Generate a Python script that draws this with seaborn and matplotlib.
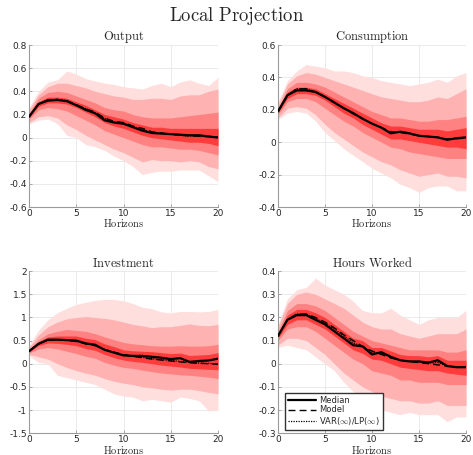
import numpy as np
import pandas as pd
import seaborn as sns
from matplotlib import pyplot as plt
from matplotlib.ticker import FormatStrFormatter

horizons = list(range(21))

# ---- Output
out_median = [0.18, 0.29, 0.32, 0.325, 0.315, 0.28, 0.24, 0.21, 0.15, 0.13, 0.12, 0.09, 0.06, 0.04, 0.035, 0.03, 0.025, 0.02, 0.02, 0.01, 0.0]
out_model = [0.18, 0.29, 0.325, 0.33, 0.32, 0.285, 0.25, 0.22, 0.17, 0.14, 0.13, 0.1, 0.08, 0.05, 0.04, 0.03, 0.02, 0.015, 0.012, 0.008, 0.005]
out_var = [0.18, 0.29, 0.33, 0.33, 0.32, 0.28, 0.25, 0.215, 0.165, 0.135, 0.125, 0.095, 0.07, 0.045, 0.035, 0.03, 0.02, 0.015, 0.015, 0.01, 0.005]
out_hi1 = [0.26, 0.4, 0.48, 0.5, 0.575, 0.55, 0.51, 0.49, 0.47, 0.46, 0.44, 0.43, 0.42, 0.45, 0.47, 0.44, 0.48, 0.5, 0.47, 0.45, 0.52]
out_lo1 = [0.12, 0.15, 0.16, 0.12, 0.02, 0.0, -0.06, -0.08, -0.11, -0.16, -0.2, -0.25, -0.32, -0.3, -0.29, -0.29, -0.28, -0.28, -0.28, -0.33, -0.38]
out_hi2 = [0.24, 0.37, 0.44, 0.47, 0.47, 0.45, 0.43, 0.4, 0.38, 0.36, 0.35, 0.33, 0.33, 0.34, 0.34, 0.33, 0.36, 0.37, 0.37, 0.4, 0.42]
out_lo2 = [0.13, 0.18, 0.19, 0.17, 0.11, 0.07, 0.02, -0.02, -0.06, -0.1, -0.13, -0.17, -0.21, -0.19, -0.2, -0.2, -0.21, -0.2, -0.21, -0.25, -0.27]
out_hi3 = [0.21, 0.34, 0.39, 0.4, 0.39, 0.36, 0.33, 0.3, 0.26, 0.24, 0.23, 0.2, 0.18, 0.17, 0.17, 0.17, 0.18, 0.19, 0.2, 0.21, 0.22]
out_lo3 = [0.16, 0.24, 0.26, 0.25, 0.23, 0.19, 0.15, 0.11, 0.06, 0.03, 0.0, -0.03, -0.06, -0.08, -0.08, -0.09, -0.1, -0.1, -0.11, -0.13, -0.15]
out_hi4 = [0.19, 0.31, 0.35, 0.35, 0.34, 0.31, 0.28, 0.24, 0.2, 0.18, 0.16, 0.13, 0.11, 0.09, 0.09, 0.08, 0.08, 0.08, 0.08, 0.08, 0.08]
out_lo4 = [0.17, 0.27, 0.3, 0.3, 0.29, 0.26, 0.22, 0.18, 0.13, 0.1, 0.08, 0.05, 0.02, 0.0, -0.01, -0.02, -0.03, -0.04, -0.04, -0.05, -0.07]

# ---- Consumption
con_median = [0.19, 0.29, 0.32, 0.32, 0.31, 0.28, 0.245, 0.21, 0.18, 0.145, 0.115, 0.09, 0.055, 0.065, 0.055, 0.04, 0.035, 0.03, 0.015, 0.025, 0.03]
con_model = [0.19, 0.29, 0.33, 0.33, 0.31, 0.28, 0.245, 0.21, 0.175, 0.145, 0.115, 0.09, 0.065, 0.06, 0.05, 0.04, 0.035, 0.03, 0.02, 0.022, 0.025]
con_var = [0.19, 0.29, 0.33, 0.33, 0.31, 0.28, 0.245, 0.21, 0.18, 0.145, 0.115, 0.09, 0.06, 0.062, 0.052, 0.04, 0.035, 0.03, 0.018, 0.024, 0.028]
con_hi1 = [0.25, 0.38, 0.44, 0.48, 0.47, 0.46, 0.44, 0.44, 0.43, 0.41, 0.4, 0.38, 0.37, 0.36, 0.35, 0.36, 0.37, 0.39, 0.37, 0.41, 0.43]
con_lo1 = [0.14, 0.18, 0.19, 0.18, 0.13, 0.06, 0.01, -0.04, -0.08, -0.12, -0.16, -0.19, -0.22, -0.26, -0.28, -0.31, -0.28, -0.27, -0.27, -0.3, -0.3]
con_hi2 = [0.23, 0.36, 0.41, 0.43, 0.42, 0.4, 0.38, 0.36, 0.34, 0.32, 0.3, 0.28, 0.27, 0.26, 0.25, 0.25, 0.26, 0.28, 0.27, 0.3, 0.33]
con_lo2 = [0.15, 0.21, 0.22, 0.21, 0.17, 0.11, 0.06, 0.02, -0.02, -0.06, -0.09, -0.12, -0.14, -0.17, -0.19, -0.21, -0.2, -0.19, -0.21, -0.21, -0.22]
con_hi3 = [0.21, 0.33, 0.37, 0.37, 0.36, 0.34, 0.31, 0.28, 0.25, 0.22, 0.19, 0.17, 0.15, 0.15, 0.14, 0.13, 0.13, 0.14, 0.14, 0.15, 0.16]
con_lo3 = [0.17, 0.25, 0.27, 0.27, 0.25, 0.21, 0.17, 0.13, 0.1, 0.06, 0.03, 0.0, -0.03, -0.04, -0.06, -0.07, -0.08, -0.09, -0.1, -0.1, -0.1]
con_hi4 = [0.2, 0.31, 0.34, 0.34, 0.33, 0.3, 0.27, 0.24, 0.21, 0.18, 0.15, 0.12, 0.1, 0.1, 0.09, 0.08, 0.08, 0.08, 0.07, 0.08, 0.09]
con_lo4 = [0.18, 0.27, 0.3, 0.3, 0.29, 0.26, 0.22, 0.18, 0.15, 0.11, 0.08, 0.05, 0.02, 0.02, 0.01, 0.0, -0.01, -0.02, -0.03, -0.03, -0.04]

# ---- Investment
inv_median = [0.27, 0.43, 0.52, 0.52, 0.51, 0.5, 0.44, 0.41, 0.3, 0.24, 0.18, 0.17, 0.17, 0.15, 0.13, 0.1, 0.12, 0.04, 0.06, 0.07, 0.11]
inv_model = [0.27, 0.43, 0.51, 0.52, 0.51, 0.48, 0.43, 0.39, 0.31, 0.25, 0.2, 0.16, 0.13, 0.1, 0.08, 0.06, 0.04, 0.02, 0.01, 0.0, -0.01]
inv_var = [0.27, 0.43, 0.51, 0.52, 0.51, 0.49, 0.43, 0.4, 0.3, 0.245, 0.19, 0.16, 0.14, 0.11, 0.09, 0.07, 0.05, 0.03, 0.015, 0.005, -0.005]
inv_hi1 = [0.4, 0.72, 0.95, 1.1, 1.2, 1.28, 1.33, 1.37, 1.39, 1.39, 1.36, 1.3, 1.22, 1.19, 1.12, 1.1, 1.13, 1.13, 1.12, 1.13, 1.17]
inv_lo1 = [0.17, 0.03, 0.0, -0.25, -0.3, -0.35, -0.4, -0.45, -0.55, -0.65, -0.7, -0.72, -0.8, -0.77, -0.8, -0.83, -0.72, -0.75, -0.8, -1.02, -1.0]
inv_hi2 = [0.36, 0.62, 0.8, 0.9, 0.97, 1.0, 1.02, 1.0, 0.98, 0.95, 0.9, 0.85, 0.82, 0.78, 0.8, 0.8, 0.83, 0.86, 0.83, 0.82, 0.85]
inv_lo2 = [0.2, 0.15, 0.1, 0.0, -0.08, -0.15, -0.2, -0.25, -0.32, -0.38, -0.42, -0.45, -0.5, -0.52, -0.55, -0.57, -0.55, -0.55, -0.58, -0.62, -0.65]
inv_hi3 = [0.31, 0.52, 0.65, 0.7, 0.74, 0.72, 0.7, 0.65, 0.58, 0.52, 0.46, 0.43, 0.41, 0.39, 0.38, 0.38, 0.39, 0.38, 0.38, 0.39, 0.42]
inv_lo3 = [0.23, 0.32, 0.35, 0.32, 0.27, 0.22, 0.16, 0.12, 0.03, -0.03, -0.08, -0.1, -0.14, -0.17, -0.2, -0.22, -0.24, -0.25, -0.27, -0.29, -0.32]
inv_hi4 = [0.29, 0.47, 0.58, 0.6, 0.6, 0.6, 0.55, 0.52, 0.43, 0.37, 0.3, 0.28, 0.27, 0.26, 0.24, 0.22, 0.23, 0.18, 0.19, 0.2, 0.24]
inv_lo4 = [0.25, 0.39, 0.45, 0.44, 0.42, 0.39, 0.33, 0.29, 0.2, 0.13, 0.08, 0.05, 0.03, 0.0, -0.03, -0.05, -0.07, -0.1, -0.11, -0.12, -0.13]

# ---- Hours Worked
hrs_median = [0.12, 0.19, 0.21, 0.21, 0.19, 0.17, 0.14, 0.11, 0.08, 0.075, 0.04, 0.05, 0.03, 0.015, 0.01, 0.01, 0.005, 0.015, -0.01, -0.015, -0.015]
hrs_model = [0.12, 0.19, 0.215, 0.215, 0.2, 0.18, 0.155, 0.125, 0.1, 0.075, 0.055, 0.04, 0.025, 0.015, 0.01, 0.005, 0.0, -0.005, -0.01, -0.015, -0.015]
hrs_var = [0.12, 0.19, 0.215, 0.215, 0.195, 0.175, 0.15, 0.12, 0.09, 0.075, 0.05, 0.045, 0.028, 0.015, 0.01, 0.008, 0.003, 0.005, -0.01, -0.015, -0.015]
hrs_hi1 = [0.17, 0.28, 0.32, 0.33, 0.37, 0.34, 0.32, 0.3, 0.27, 0.23, 0.22, 0.22, 0.24, 0.21, 0.19, 0.17, 0.19, 0.2, 0.2, 0.2, 0.23]
hrs_lo1 = [0.07, 0.08, 0.07, 0.06, 0.03, 0.0, -0.03, -0.08, -0.12, -0.16, -0.18, -0.2, -0.21, -0.22, -0.21, -0.22, -0.22, -0.22, -0.25, -0.23, -0.23]
hrs_hi2 = [0.16, 0.26, 0.3, 0.31, 0.3, 0.28, 0.26, 0.24, 0.21, 0.18, 0.16, 0.15, 0.15, 0.13, 0.12, 0.11, 0.12, 0.13, 0.13, 0.13, 0.15]
hrs_lo2 = [0.08, 0.11, 0.11, 0.1, 0.07, 0.04, 0.0, -0.04, -0.07, -0.1, -0.12, -0.14, -0.15, -0.16, -0.16, -0.17, -0.17, -0.16, -0.18, -0.18, -0.18]
hrs_hi3 = [0.14, 0.23, 0.26, 0.26, 0.25, 0.23, 0.2, 0.17, 0.14, 0.12, 0.1, 0.09, 0.08, 0.07, 0.06, 0.06, 0.06, 0.06, 0.05, 0.05, 0.06]
hrs_lo3 = [0.1, 0.15, 0.16, 0.16, 0.14, 0.11, 0.08, 0.05, 0.02, 0.0, -0.03, -0.04, -0.05, -0.07, -0.07, -0.08, -0.08, -0.08, -0.09, -0.09, -0.09]
hrs_hi4 = [0.13, 0.21, 0.235, 0.235, 0.22, 0.2, 0.17, 0.14, 0.11, 0.1, 0.07, 0.07, 0.055, 0.04, 0.035, 0.035, 0.03, 0.035, 0.015, 0.015, 0.015]
hrs_lo4 = [0.11, 0.17, 0.19, 0.19, 0.17, 0.15, 0.12, 0.09, 0.06, 0.045, 0.02, 0.015, 0.0, -0.015, -0.02, -0.025, -0.03, -0.03, -0.04, -0.045, -0.05]

out_yticks = [-0.6, -0.4, -0.2, 0, 0.2, 0.4, 0.6, 0.8]
con_yticks = [-0.4, -0.2, 0, 0.2, 0.4, 0.6]
inv_yticks = [-1.5, -1, -0.5, 0, 0.5, 1, 1.5, 2]
hrs_yticks = [-0.3, -0.2, -0.1, 0, 0.1, 0.2, 0.3, 0.4]

panels = [
    ('Output', out_median, out_model, out_var,
     [(out_lo1, out_hi1), (out_lo2, out_hi2), (out_lo3, out_hi3), (out_lo4, out_hi4)],
     out_yticks),
    ('Consumption', con_median, con_model, con_var,
     [(con_lo1, con_hi1), (con_lo2, con_hi2), (con_lo3, con_hi3), (con_lo4, con_hi4)],
     con_yticks),
    ('Investment', inv_median, inv_model, inv_var,
     [(inv_lo1, inv_hi1), (inv_lo2, inv_hi2), (inv_lo3, inv_hi3), (inv_lo4, inv_hi4)],
     inv_yticks),
    ('Hours Worked', hrs_median, hrs_model, hrs_var,
     [(hrs_lo1, hrs_hi1), (hrs_lo2, hrs_hi2), (hrs_lo3, hrs_hi3), (hrs_lo4, hrs_hi4)],
     hrs_yticks),
]

band_colors = ['#ffdede', '#ffb2b2', '#ff8282', '#ff3c3c']

sns.set_style('ticks')
plt.rcParams['mathtext.fontset'] = 'cm'
plt.rcParams['font.family'] = ['DejaVu Sans']

fig = plt.figure(figsize=(4.73, 4.55), dpi=100)
positions = [
    [0.0613, 0.545, 0.3996, 0.356],
    [0.5877, 0.545, 0.3975, 0.356],
    [0.0613, 0.048, 0.3996, 0.356],
    [0.5877, 0.048, 0.3975, 0.356],
]

for pos, (name, med, model, var, bands, yticks) in zip(positions, panels):
    ax = fig.add_axes(pos)
    for (lo, hi), c in zip(bands, band_colors):
        ax.fill_between(horizons, lo, hi, color=c, lw=0, zorder=1)
    df = pd.DataFrame({'h': horizons, 'median': med, 'model': model, 'var': var})
    sns.lineplot(data=df, x='h', y='median', ax=ax, color='black', lw=1.6,
                 label='Median', zorder=4)
    sns.lineplot(data=df, x='h', y='model', ax=ax, color='black', lw=1.0,
                 linestyle=(0, (5, 3)), label='Model', zorder=3)
    sns.lineplot(data=df, x='h', y='var', ax=ax, color='black', lw=0.9,
                 linestyle=(0, (1, 1)), label=r'VAR($\infty$)/LP($\infty$)', zorder=3)
    ax.set_xlim(0, 20)
    ax.set_ylim(yticks[0], yticks[-1])
    ax.set_xticks([0, 5, 10, 15, 20])
    ax.set_yticks(yticks)
    ax.yaxis.set_major_formatter(FormatStrFormatter('%g'))
    ax.grid(True, color='#e6e6e6', lw=0.6, zorder=0)
    ax.set_axisbelow(True)
    for s in ['top', 'right']:
        ax.spines[s].set_visible(False)
    for s in ['left', 'bottom']:
        ax.spines[s].set_color('#9a9a9a')
        ax.spines[s].set_linewidth(0.8)
    ax.tick_params(direction='in', length=2.5, width=0.6, colors='#9a9a9a',
                   labelcolor='#262626', labelsize=6.5, pad=1.5)
    ax.set_title(r'$\mathrm{' + name.replace(' ', r'\ ') + '}$', fontsize=9, pad=3)
    ax.set_xlabel(r'$\mathrm{Horizons}$', fontsize=7.5, labelpad=-0.5)
    ax.set_ylabel('')
    if name == 'Hours Worked':
        ax.legend(loc='lower left', fontsize=6, frameon=True, fancybox=False,
                  edgecolor='#333333', framealpha=1, handlelength=3.4,
                  borderpad=0.3, labelspacing=0.1, handletextpad=0.4,
                  borderaxespad=0.4, bbox_to_anchor=(0.02, 0.0))
    else:
        ax.get_legend().remove()

fig.text(0.5, 0.965, r'$\mathrm{Local\ Projection}$', ha='center', va='center', fontsize=13.5)

fig.savefig('out.png', dpi=100)
